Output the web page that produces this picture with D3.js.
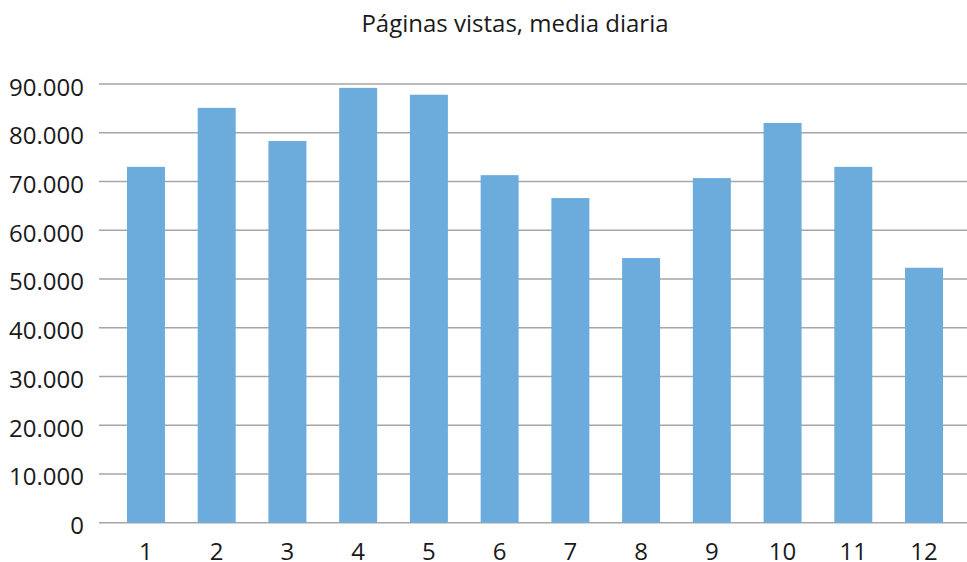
<!DOCTYPE html>
<html><head><meta charset="utf-8">
<script src="https://cdn.jsdelivr.net/npm/d3@7"></script>
<style>body{margin:0;background:#fff}svg{display:block}text{font-family:"Open Sans",sans-serif;fill:#1a1a1a}</style>
</head><body><svg id="c" width="967" height="562"></svg>
<script>
const categories = ["1","2","3","4","5","6","7","8","9","10","11","12"];
const values = [73000, 85100, 78300, 89200, 87800, 71300, 66600, 54300, 70700, 82000, 73000, 52300];
const yTicks = [0,10000,20000,30000,40000,50000,60000,70000,80000,90000];
const title = "Páginas vistas, media diaria";

const svg = d3.select("#c");
const x = d3.scaleBand().domain(categories).range([110.6, 959.4]).paddingInner(0.463).paddingOuter(0.2315);
const y = d3.scaleLinear().domain([0, 90000]).range([522.7, 84]);
const fmt = v => d3.format(",")(v).replace(/,/g, ".");

svg.append("text").attr("x", 515).attr("y", 32.3).attr("text-anchor","middle")
  .attr("font-size", 24).text(title);

const yAxis = d3.axisLeft(y).tickValues(yTicks).tickSize(0).tickFormat(fmt);
const gy = svg.append("g").attr("transform","translate(99,0)").call(yAxis);
gy.select(".domain").remove();
gy.selectAll("text").attr("x", -15).attr("dy", null).attr("y", 11)
  .attr("font-size", 24).attr("font-family", "Open Sans").attr("fill","#1a1a1a");

svg.append("g").selectAll("line").data(yTicks).join("line")
  .attr("x1", 99).attr("x2", 967).attr("y1", d => y(d)).attr("y2", d => y(d))
  .attr("stroke", "#a6a6a6").attr("stroke-width", 1.4);

svg.append("g").selectAll("rect").data(values).join("rect")
  .attr("x", (d,i) => x(categories[i])).attr("width", x.bandwidth())
  .attr("y", d => y(d)).attr("height", d => y(0) - y(d))
  .attr("fill", "#6cacdd");

const xAxis = d3.axisBottom(x).tickSize(0);
const gx = svg.append("g").attr("transform", "translate(0,522.7)").call(xAxis);
gx.select(".domain").remove();
gx.selectAll("text").attr("dy", null).attr("y", 37)
  .attr("font-size", 24).attr("font-family", "Open Sans").attr("fill","#1a1a1a");
</script></body></html>
